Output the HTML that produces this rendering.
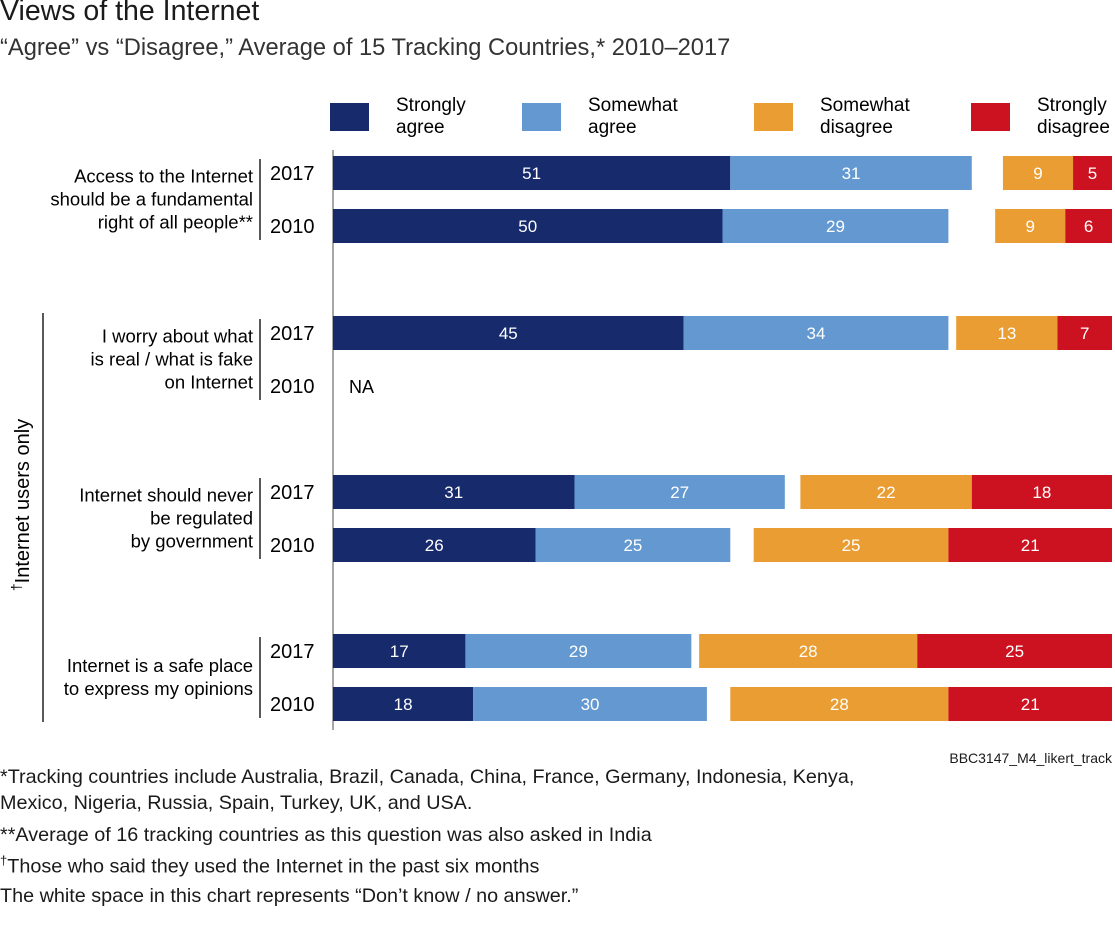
<!DOCTYPE html>
<html><head><meta charset="utf-8"><style>
body{margin:0;background:#fff;font-family:"Liberation Sans",sans-serif;color:#1a1a1a}
#root{position:relative;width:1115px;height:944px;overflow:hidden}
.t{position:absolute;white-space:nowrap}
</style></head><body>
<div id="root">
<div class="t" style="left:0;top:-5px;font-size:28.5px">Views of the Internet</div>
<div class="t" style="left:0;top:35px;font-size:23.7px;color:#333">“Agree” vs “Disagree,” Average of 15 Tracking Countries,* 2010–2017</div>
<svg id="svg" width="1115" height="944" style="position:absolute;left:0;top:0"></svg>
<div class="t" style="right:3px;top:750px;font-size:14px">BBC3147_M4_likert_track</div>
<div class="t" style="left:0;top:764px;font-size:19.8px;line-height:26px">*Tracking countries include Australia, Brazil, Canada, China, France, Germany, Indonesia, Kenya,<br>Mexico, Nigeria, Russia, Spain, Turkey, UK, and USA.<div style="height:6px"></div>**Average of 16 tracking countries as this question was also asked in India<br><sup style="font-size:13px">†</sup>Those who said they used the Internet in the past six months<br><div style="height:3px"></div>The white space in this chart represents “Don’t know / no answer.”</div>
</div>
<script>
const questions=[["Access to the Internet","should be a fundamental","right of all people**"],["I worry about what","is real / what is fake","on Internet"],["Internet should never","be regulated","by government"],["Internet is a safe place","to express my opinions"]];
const years=["2017","2010"];
const strongAgree=[[51,50],[45,null],[31,26],[17,18]];
const someAgree=[[31,29],[34,null],[27,25],[29,30]];
const someDisagree=[[9,9],[13,null],[22,25],[28,28]];
const strongDisagree=[[5,6],[7,null],[18,21],[25,21]];
const legendLabels=[["Strongly","agree"],["Somewhat","agree"],["Somewhat","disagree"],["Strongly","disagree"]];
const colors=["#172a6c","#6399d0","#e99d33","#cc1221"];
const svg=document.getElementById('svg');const NS="http://www.w3.org/2000/svg";
const x0=333,x1=1112,sc=(x1-x0)/100;
const x=v=>x0+v*sc;
const groupTop=[156,316,475,634],rowGap=53,bh=34;
function el(t,a,p){const e=document.createElementNS(NS,t);for(const k in a)e.setAttribute(k,a[k]);(p||svg).appendChild(e);return e;}
function tx(s,a){const e=el('text',a);e.textContent=s;return e;}
const lx=[330,522,754,971],ltx=[396,588,820,1037];
legendLabels.forEach((l,i)=>{
 const r=el('rect',{x:lx[i],y:103,width:39,height:28,fill:colors[i]});
 
 const t=tx(l[0],{x:ltx[i],y:111,'font-size':19});
 
 const t2=tx(l[1],{x:ltx[i],y:133,'font-size':19});
 
});
const ax=el('line',{x1:x0,y1:150,x2:x0,y2:730,stroke:'#888','stroke-width':1.5});

questions.forEach((q,g)=>{
 const top=groupTop[g];const mid=top+(bh+rowGap)/2;
 const n=q.length;
 q.forEach((line,li)=>{const t=tx(line,{x:253,y:mid-(n-1)*11.5+li*23+6,'font-size':18.5,'text-anchor':'end'});
  });
 const br=el('line',{x1:260,y1:top+3,x2:260,y2:top+rowGap+bh-3,stroke:'#222','stroke-width':1.5});
 
 years.forEach((yr,r)=>{
  const y=top+r*rowGap;
  const yt=tx(yr,{x:270,y:y+bh/2+7,'font-size':20});
  
  if(strongAgree[g][r]==null){const na=tx('NA',{x:349,y:y+bh/2+7,'font-size':18});
   return;}
  const a1=strongAgree[g][r],a2=someAgree[g][r],d1=someDisagree[g][r],d2=strongDisagree[g][r];
  const segs=[[0,a1],[a1,a1+a2],[100-d1-d2,100-d2],[100-d2,100]];
  const vals=[a1,a2,d1,d2];
  segs.forEach((s,i)=>{
   const rc=el('rect',{x:x(s[0]),y:y,width:x(s[1])-x(s[0]),height:bh,fill:colors[i]});
   
   const vt=tx(String(vals[i]),{x:(x(s[0])+x(s[1]))/2,y:y+bh/2+6,'font-size':17,fill:'#fff','text-anchor':'middle'});
   
  });
 });
});
const gb=el('line',{x1:43,y1:313,x2:43,y2:722,stroke:'#222','stroke-width':1.5});

const gl=el('text',{x:0,y:0,'font-size':20,'text-anchor':'middle',transform:'translate(29,505) rotate(-90)'});
gl.innerHTML='<tspan font-size="14" dy="-8">†</tspan><tspan dy="8">Internet users only</tspan>';

</script>
</body></html>
